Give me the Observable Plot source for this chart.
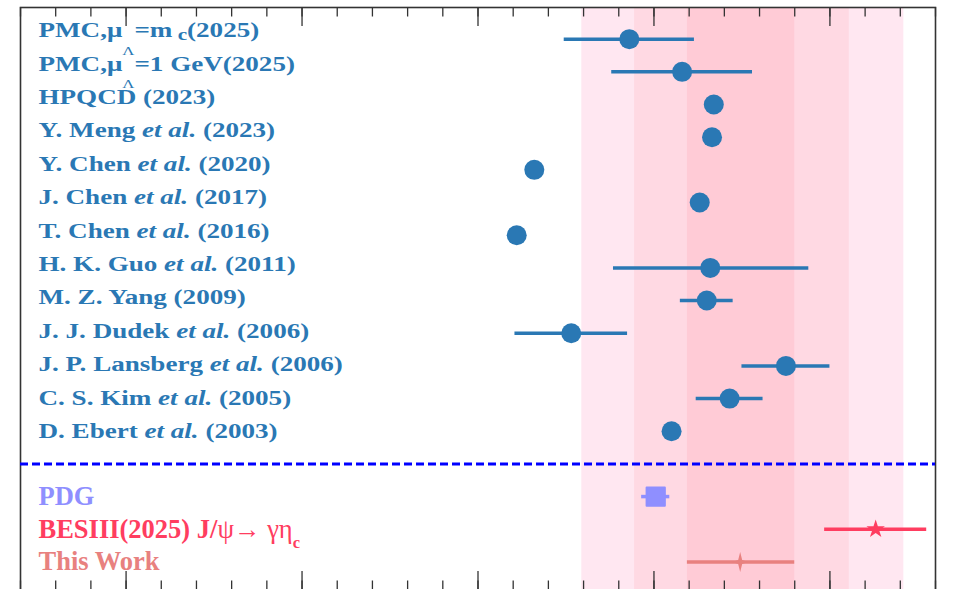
<!DOCTYPE html>
<html>
<head>
<meta charset="utf-8">
<script src="https://cdn.jsdelivr.net/npm/d3@7"></script>
<script src="https://cdn.jsdelivr.net/npm/@observablehq/plot@0.6"></script>
<style>
  html, body { margin: 0; padding: 0; background: #fff; overflow: hidden; }
  #chart svg text { white-space: pre; }
</style>
</head>
<body>
<div id="chart"></div>
<script>
// Theoretical predictions, top to bottom (markup: <i> italic, <sub> subscript, <lo> low subscript, <n> normal weight)
const refLabels = [
  "PMC,μ<lo>Λ</lo>=m<sub> c</sub>(2025)",
  "PMC,μ<lo>Λ</lo>=1 GeV(2025)",
  "HPQCD (2023)",
  "Y. Meng <i>et al.</i> (2023)",
  "Y. Chen <i>et al.</i> (2020)",
  "J. Chen <i>et al.</i> (2017)",
  "T. Chen <i>et al.</i> (2016)",
  "H. K. Guo <i>et al.</i> (2011)",
  "M. Z. Yang (2009)",
  "J. J. Dudek <i>et al.</i> (2006)",
  "J. P. Lansberg <i>et al.</i> (2006)",
  "C. S. Kim <i>et al.</i> (2005)",
  "D. Ebert <i>et al.</i> (2003)"
];
const refValues  = [4.86, 5.16, 5.34, 5.33, 4.32, 5.26, 4.22, 5.32, 5.30, 4.53, 5.75, 5.43, 5.10];
const refErrLow  = [0.37, 0.40, 0,    0,    0,    0,    0,    0.55, 0.15, 0.32, 0.25, 0.19, 0];
const refErrHigh = [0.37, 0.40, 0,    0,    0,    0,    0,    0.56, 0.15, 0.32, 0.25, 0.19, 0];

// Measurements and this work, below the separator
const expLabels  = ["PDG", "BESIII(2025) J/<n>ψ→ γη</n><sub>c</sub>", "This Work"];
const expValues  = [5.01, 6.26, 5.49];
const expErrLow  = [0.08, 0.29, 0.30];
const expErrHigh = [0.08, 0.29, 0.31];
const expColors  = ["#8f8fff", "#ff3d60", "#e8817f"];

// Row layout
const refRows = d3.range(refLabels.length);          // 0 .. 12
const separatorRow = 13;
const expRows = [14, 15, 16];
// the label column is spaced a little wider than the point rows, meeting them at the last row
const labelSpread = 0.022;
const labelRow = i => i - (refRows.length - 1 - i) * labelSpread;

// Uncertainty bands of this work (3σ, 2σ, 1σ)
const bandSigmas = [3, 2, 1];
const bandColors = ["#ffe7f1", "#ffd9e3", "#ffcbd6"];

// Axis ticks (no tick labels)
const majorTicks = [2, 3, 4, 5, 6];
const minorTicks = d3.range(7, 34).map(k => k / 5);

const blue = "#2a78b4";
const W = 953, H = 590, mT = 7, mB = 0, mL = 20, mR = 18;
const frameH = H - mT - mB;

// thin four-pointed star
const thinStar = {
  draw(ctx, size) {
    const r = Math.sqrt(size / Math.PI);
    const v = r, h = r * 0.8, w = r * 0.2;
    ctx.moveTo(0, -v);
    ctx.lineTo(w, -w);
    ctx.lineTo(h, 0);
    ctx.lineTo(w, w);
    ctx.lineTo(0, v);
    ctx.lineTo(-w, w);
    ctx.lineTo(-h, 0);
    ctx.lineTo(-w, -w);
    ctx.closePath();
  }
};

const tw = {v: expValues[2], lo: expErrLow[2], hi: expErrHigh[2]};

const marks = [];
bandSigmas.forEach((s, k) => {
  marks.push(Plot.rect([s], {x1: d => tw.v - d * tw.lo, x2: d => tw.v + d * tw.hi, fill: bandColors[k]}));
});
// inward ticks on top and bottom edges
const tickStyle = {stroke: "#333", strokeWidth: 1.3};
marks.push(
  Plot.ruleX(majorTicks, {x: d => d, insetBottom: frameH - 19, ...tickStyle}),
  Plot.ruleX(majorTicks, {x: d => d, insetTop: frameH - 19, ...tickStyle}),
  Plot.ruleX(minorTicks, {x: d => d, insetBottom: frameH - 9.5, ...tickStyle}),
  Plot.ruleX(minorTicks, {x: d => d, insetTop: frameH - 9.5, ...tickStyle}),
  Plot.frame({stroke: "#333", strokeWidth: 1.6}),
  Plot.ruleY([separatorRow], {y: d => d, stroke: "#0000ff", strokeWidth: 3, strokeDasharray: "8,4"})
);
// theory points
marks.push(
  Plot.ruleY(refRows.filter(i => refErrLow[i] + refErrHigh[i] > 0), {
    y: i => i, x1: i => refValues[i] - refErrLow[i], x2: i => refValues[i] + refErrHigh[i],
    stroke: blue, strokeWidth: 3.5
  }),
  Plot.dot(refRows, {x: i => refValues[i], y: i => i, r: 10, fill: blue})
);
// measurements and this work
expRows.forEach((row, k) => {
  marks.push(Plot.ruleY([k], {
    y: () => row, x1: i => expValues[i] - expErrLow[i], x2: i => expValues[i] + expErrHigh[i],
    stroke: expColors[k], strokeWidth: 3.5
  }));
});
marks.push(
  Plot.dot([0], {x: i => expValues[i], y: () => expRows[0], symbol: "square", r: 10.3,
    fill: expColors[0], stroke: expColors[0], strokeWidth: 2, strokeLinejoin: "round"}),
  Plot.dot([1], {x: i => expValues[i], y: () => expRows[1], symbol: "star", r: 5.8, fill: expColors[1]}),
  Plot.dot([2], {x: i => expValues[i], y: () => expRows[2], symbol: thinStar, r: 10, fill: expColors[2]})
);
// labels
marks.push(
  Plot.text(refRows, {
    text: i => refLabels[i], y: labelRow, frameAnchor: "left", dx: 18, textAnchor: "start",
    fill: blue, fontSize: 21, fontWeight: "bold", fontFamily: "Liberation Serif"
  }),
  Plot.text([0, 1, 2], {
    text: i => expLabels[i], y: i => expRows[i], frameAnchor: "left", dx: 18, textAnchor: "start",
    fill: i => expColors[i], fontSize: 26.5, fontWeight: "bold", fontFamily: "Liberation Serif"
  })
);

const svg = Plot.plot({
  width: W, height: H,
  marginTop: mT, marginBottom: mB, marginLeft: mL, marginRight: mR,
  x: {domain: [1.4, 6.6], axis: null},
  y: {domain: [-0.97, 16.875], reverse: true, axis: null},
  color: {type: "identity"},
  style: {background: "white"},
  marks
});

// turn the simple markup in label strings into styled tspans
const svgNS = "http://www.w3.org/2000/svg";
function richify(textEl, base, opts) {
  const src = textEl.textContent;
  textEl.textContent = "";
  const tokens = src.split(/(<\/?[a-z]+>)/).filter(s => s !== "");
  const state = {i: false, sub: false, lo: false, n: false};
  let shift = 0;
  for (const tok of tokens) {
    const m = tok.match(/^<(\/?)([a-z]+)>$/);
    if (m) { state[m[2]] = !m[1]; continue; }
    const t = document.createElementNS(svgNS, "tspan");
    let target = 0, size = base;
    if (state.sub) { target = opts.subShift * base; size = opts.subSize * base; }
    if (state.lo) { target = opts.loShift * base; size = opts.loSize * base; }
    if (target !== shift) { t.setAttribute("dy", (target - shift).toFixed(2)); shift = target; }
    if (size !== base) t.setAttribute("font-size", size.toFixed(2));
    if (state.i) t.setAttribute("font-style", "italic");
    if (state.n || state.lo) t.setAttribute("font-weight", "normal");
    t.textContent = tok;
    textEl.appendChild(t);
  }
}
const textGroups = svg.querySelectorAll('g[aria-label="text"]');
textGroups[0].querySelectorAll("text").forEach(t => {
  richify(t, 21, {subShift: 0.14, subSize: 0.78, loShift: 0.84, loSize: 0.62});
  t.setAttribute("transform", (t.getAttribute("transform") || "") + " scale(1.29,1)");
});
textGroups[1].querySelectorAll("text").forEach(t => {
  richify(t, 26.5, {subShift: 0.38, subSize: 0.62, loShift: 0.8, loSize: 0.5});
});

document.getElementById("chart").appendChild(svg);
</script>
</body>
</html>
